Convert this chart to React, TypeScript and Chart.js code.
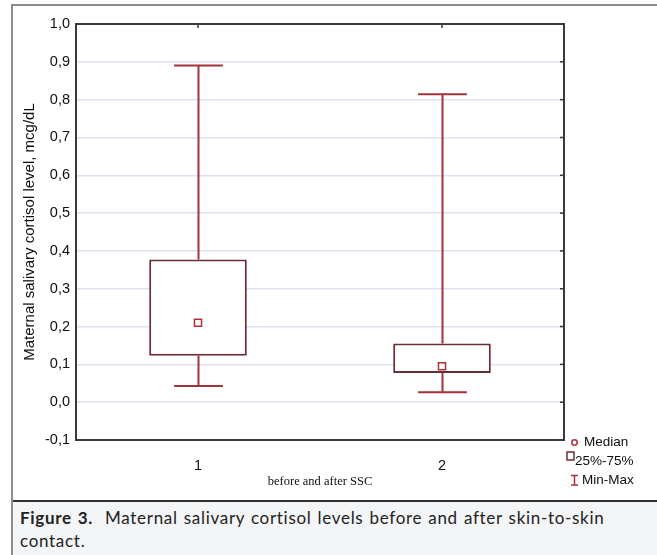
import React, { useEffect, useRef } from "react";
import { Chart, registerables } from "chart.js";

Chart.register(...registerables);

const CATEGORIES = ["1", "2"];
const MIN_VALUES = [0.043, 0.026];
const Q1_VALUES = [0.123, 0.077];
const MEDIAN_VALUES = [0.21, 0.095];
const Q3_VALUES = [0.377, 0.155];
const MAX_VALUES = [0.89, 0.814];
const Y_MIN = -0.1;
const Y_MAX = 1.0;
const Y_STEP = 0.1;

const X_TITLE = "before and after SSC";
const Y_TITLE = "Maternal salivary cortisol level, mcg/dL";
const LEGEND_LABELS = ["Median", "25%-75%", "Min-Max"];

const BOX_COLOR = "#6a2e36";
const WHISKER_COLOR = "#a3323c";
const MEDIAN_COLOR = "#b0303a";
const FRAME_COLOR = "#3a3a3a";
const TEXT_COLOR = "#0e0e0e";
const SANS = "'Liberation Sans', Arial, sans-serif";

const whiskerPlugin = {
  id: "whiskers",
  beforeDatasetsDraw(chart: any) {
    const { ctx, scales } = chart;
    const x = scales.x;
    const y = scales.y;
    const catW = (x.right - x.left) / CATEGORIES.length;
    const half = catW * 0.1;
    ctx.save();
    ctx.strokeStyle = WHISKER_COLOR;
    ctx.lineWidth = 2;
    CATEGORIES.forEach((_, i) => {
      const cx = Math.round(x.getPixelForValue(i)) + 0.5;
      const pairs = [
        [Q3_VALUES[i], MAX_VALUES[i]],
        [Q1_VALUES[i], MIN_VALUES[i]],
      ];
      pairs.forEach(([from, to]) => {
        const yf = y.getPixelForValue(from);
        const yt = y.getPixelForValue(to);
        ctx.beginPath();
        ctx.moveTo(cx, yf);
        ctx.lineTo(cx, yt);
        ctx.moveTo(cx - half, yt);
        ctx.lineTo(cx + half, yt);
        ctx.stroke();
      });
    });
    ctx.restore();
  },
};

const framePlugin = {
  id: "frame",
  afterDraw(chart: any) {
    const { ctx, chartArea, scales } = chart;
    const { left, right, top, bottom } = chartArea;
    ctx.save();
    ctx.strokeStyle = FRAME_COLOR;
    ctx.lineWidth = 2;
    ctx.strokeRect(left, top, right - left, bottom - top);
    ctx.lineWidth = 1.5;
    scales.y.ticks.forEach((t: any) => {
      const py = scales.y.getPixelForValue(t.value);
      ctx.beginPath();
      ctx.moveTo(right - 4, py);
      ctx.lineTo(right, py);
      ctx.stroke();
    });
    CATEGORIES.forEach((_, i) => {
      const px = scales.x.getPixelForValue(i);
      ctx.beginPath();
      ctx.moveTo(px, top);
      ctx.lineTo(px, top + 4);
      ctx.stroke();
    });

    // legend
    ctx.font = `13.5px ${SANS}`;
    ctx.fillStyle = TEXT_COLOR;
    ctx.textBaseline = "middle";
    ctx.textAlign = "left";
    ctx.strokeStyle = MEDIAN_COLOR;
    ctx.lineWidth = 1.5;
    ctx.beginPath();
    ctx.arc(574.5, 442.5, 2.7, 0, Math.PI * 2);
    ctx.stroke();
    ctx.fillText(LEGEND_LABELS[0], 584, 442);
    ctx.strokeStyle = BOX_COLOR;
    ctx.lineWidth = 1.5;
    ctx.strokeRect(567, 452, 7, 8);
    ctx.fillText(LEGEND_LABELS[1], 575, 461);
    ctx.strokeStyle = WHISKER_COLOR;
    ctx.lineWidth = 1.5;
    ctx.beginPath();
    ctx.moveTo(571, 475.5);
    ctx.lineTo(578, 475.5);
    ctx.moveTo(574.5, 475.5);
    ctx.lineTo(574.5, 485);
    ctx.moveTo(571, 485);
    ctx.lineTo(578, 485);
    ctx.stroke();
    ctx.fillText(LEGEND_LABELS[2], 582, 480);
    ctx.restore();
  },
};

export default function App() {
  const canvasRef = useRef<HTMLCanvasElement>(null);

  useEffect(() => {
    if (!canvasRef.current) return;
    const chart = new Chart(canvasRef.current, {
      type: "bar",
      data: {
        labels: CATEGORIES,
        datasets: [
          {
            type: "line",
            label: "Median",
            data: MEDIAN_VALUES,
            showLine: false,
            pointStyle: "rect",
            pointRadius: 5,
            pointBorderWidth: 1.5,
            pointBorderColor: MEDIAN_COLOR,
            pointBackgroundColor: "#ffffff",
            order: 0,
          } as any,
          {
            type: "bar",
            label: "25%-75%",
            data: CATEGORIES.map((_, i) => [Q1_VALUES[i], Q3_VALUES[i]]),
            backgroundColor: "#ffffff",
            borderColor: BOX_COLOR,
            borderWidth: 2,
            borderSkipped: false,
            barPercentage: 0.4,
            categoryPercentage: 1,
            order: 1,
          } as any,
        ],
      },
      options: {
        responsive: false,
        animation: false,
        devicePixelRatio: 1,
        layout: { padding: { left: 0, top: 24, right: 93, bottom: 0 } },
        plugins: {
          legend: { display: false },
          tooltip: { enabled: false },
        },
        scales: {
          x: {
            type: "category",
            offset: true,
            grid: { display: false },
            border: { display: false },
            ticks: {
              color: TEXT_COLOR,
              font: { family: SANS, size: 14.5 },
              padding: 9,
            },
            title: {
              display: true,
              text: X_TITLE,
              color: TEXT_COLOR,
              font: { family: "'Liberation Serif', 'Times New Roman', serif", size: 12.5 },
              padding: { top: 0, bottom: 10.5 },
            },
            afterFit: (scale: any) => {
              scale.height = 60;
            },
          },
          y: {
            type: "linear",
            min: Y_MIN,
            max: Y_MAX,
            grid: {
              color: "#dde2f0",
              lineWidth: 1.5,
              drawTicks: false,
            },
            border: { display: false },
            ticks: {
              stepSize: Y_STEP,
              color: TEXT_COLOR,
              font: { family: SANS, size: 14.5 },
              padding: 6,
              callback: (v: any) => {
                const n = Math.abs(v) < 1e-9 ? 0 : Number(v);
                return n.toFixed(1).replace(".", ",");
              },
            },
            title: {
              display: true,
              text: Y_TITLE,
              color: TEXT_COLOR,
              font: { family: SANS, size: 15 },
              padding: { top: 21, bottom: 0 },
            },
            afterFit: (scale: any) => {
              scale.width = 76;
            },
          },
        },
      } as any,
      plugins: [whiskerPlugin, framePlugin],
    });
    return () => chart.destroy();
  }, []);

  return (
    <div
      style={{
        position: "absolute",
        left: 0,
        top: 0,
        width: 657,
        height: 555,
        background: "#ffffff",
        overflow: "hidden",
      }}
    >
      <canvas
        ref={canvasRef}
        width={657}
        height={500}
        style={{ position: "absolute", left: 0, top: 0, width: 657, height: 500 }}
      />
      <div style={{ position: "absolute", left: 11, top: 4, width: 646, height: 2, background: "#8c8c8c" }} />
      <div style={{ position: "absolute", left: 11, top: 4, width: 2, height: 551, background: "#8c8c8c" }} />
      <div style={{ position: "absolute", left: 13, top: 500, width: 644, height: 2, background: "#2f2f2f" }} />
      <div
        style={{
          position: "absolute",
          left: 13,
          top: 502,
          width: 644,
          height: 53,
          background: "#f4f5f7",
          boxSizing: "border-box",
          padding: "4px 0 0 7px",
          fontFamily: "Lato, 'Noto Sans', sans-serif",
          fontSize: 17,
          lineHeight: "23px",
          letterSpacing: "0.7px",
          wordSpacing: "1px",
          color: "#222222",
          whiteSpace: "nowrap",
        }}
      >
        <b>Figure 3.</b>&nbsp; Maternal salivary cortisol levels before and after skin-to-skin
        <br />
        contact.
      </div>
    </div>
  );
}
